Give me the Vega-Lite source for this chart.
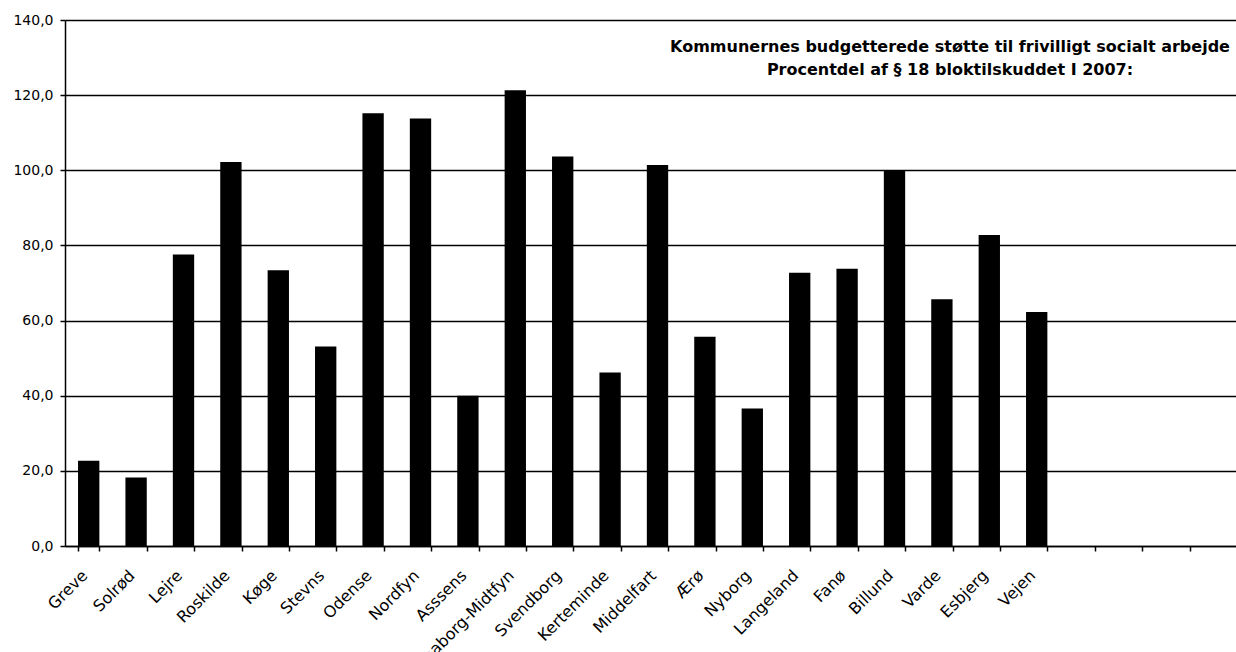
{
  "$schema": "https://vega.github.io/schema/vega-lite/v6.json",
  "autosize": {"type": "none"},
  "width": 1171,
  "height": 526,
  "padding": {"left": 65, "top": 20, "right": 0, "bottom": 106},
  "background": "white",
  "title": {
    "text": ["Kommunernes budgetterede støtte til frivilligt socialt arbejde", "Procentdel af § 18 bloktilskuddet I 2007:"],
    "anchor": "end",
    "align": "center",
    "frame": "group",
    "orient": "top",
    "baseline": "top",
    "offset": 0,
    "dx": -286,
    "dy": 65,
    "font": "DejaVu Sans",
    "fontSize": 16,
    "fontWeight": "bold",
    "lineHeight": 23,
    "color": "black"
  },
  "data": {
    "values": [
      {"kommune": "Greve", "pct": 22.7},
      {"kommune": "Solrød", "pct": 18.2},
      {"kommune": "Lejre", "pct": 77.6},
      {"kommune": "Roskilde", "pct": 102.2},
      {"kommune": "Køge", "pct": 73.4},
      {"kommune": "Stevns", "pct": 53.1},
      {"kommune": "Odense", "pct": 115.2},
      {"kommune": "Nordfyn", "pct": 113.8},
      {"kommune": "Asssens", "pct": 40.0},
      {"kommune": "Faaborg-Midtfyn", "pct": 121.3},
      {"kommune": "Svendborg", "pct": 103.7},
      {"kommune": "Kerteminde", "pct": 46.2},
      {"kommune": "Middelfart", "pct": 101.4},
      {"kommune": "Ærø", "pct": 55.7},
      {"kommune": "Nyborg", "pct": 36.6},
      {"kommune": "Langeland", "pct": 72.7},
      {"kommune": "Fanø", "pct": 73.8},
      {"kommune": "Billund", "pct": 99.8},
      {"kommune": "Varde", "pct": 65.7},
      {"kommune": "Esbjerg", "pct": 82.8},
      {"kommune": "Vejen", "pct": 62.3}
    ]
  },
  "mark": {"type": "bar", "color": "black"},
  "encoding": {
    "x": {
      "field": "kommune",
      "type": "nominal",
      "sort": null,
      "scale": {
        "domain": ["Greve", "Solrød", "Lejre", "Roskilde", "Køge", "Stevns", "Odense", "Nordfyn", "Asssens", "Faaborg-Midtfyn", "Svendborg", "Kerteminde", "Middelfart", "Ærø", "Nyborg", "Langeland", "Fanø", "Billund", "Varde", "Esbjerg", "Vejen", " ", "  ", "   ", "    "],
        "range": [0, 1185],
        "paddingInner": 0.55,
        "paddingOuter": 0.275
      },
      "axis": {
        "title": null,
        "tickBand": "extent",
        "labelAngle": -45,
        "labelAlign": "right",
        "labelBaseline": "top",
        "labelOffset": -10,
        "labelPadding": 16,
        "labelFont": "DejaVu Sans",
        "labelFontSize": 16,
        "labelColor": "black",
        "domainColor": "black",
        "domainWidth": 1.5,
        "tickColor": "black",
        "tickSize": 5,
        "tickWidth": 1.5,
        "grid": false
      }
    },
    "y": {
      "field": "pct",
      "type": "quantitative",
      "scale": {"domain": [0, 140], "nice": false},
      "axis": {
        "title": null,
        "values": [0, 20, 40, 60, 80, 100, 120, 140],
        "labelExpr": "replace(format(datum.value, '.1f'), '.', ',')",
        "labelFont": "DejaVu Sans",
        "labelFontSize": 14,
        "labelColor": "black",
        "labelPadding": 7,
        "domainColor": "black",
        "domainWidth": 1.5,
        "tickColor": "black",
        "tickSize": 5,
        "tickWidth": 1.5,
        "grid": true,
        "gridColor": "black",
        "gridWidth": 1.5,
        "gridOpacity": 1
      }
    }
  },
  "config": {"view": {"stroke": null}}
}
